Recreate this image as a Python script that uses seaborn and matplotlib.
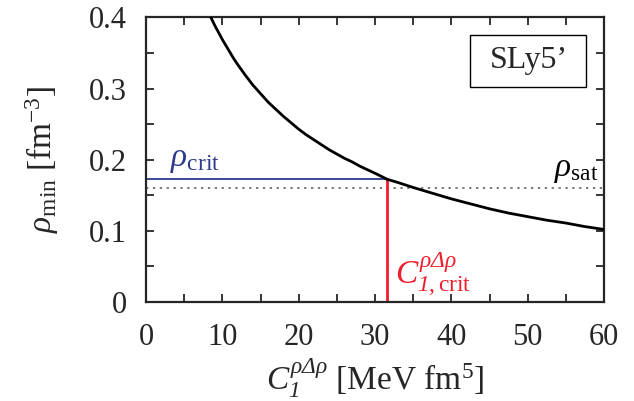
import matplotlib
matplotlib.use("Agg")
import matplotlib.pyplot as plt
from matplotlib.ticker import MultipleLocator
from matplotlib.patches import Rectangle
import seaborn as sns
import pandas as pd

# Data
c1 = [8.5, 9.0, 9.5, 10.0, 10.5, 11.0, 11.5, 12.0, 13.0, 14.0, 15.0, 16.0, 17.0,
      18.0, 19.0, 20.0, 21.0, 22.0, 23.0, 24.0, 25.0, 26.0, 27.0, 28.0, 29.0,
      30.0, 31.6, 33.0, 35.0, 37.5, 40.0, 42.5, 45.0, 47.5, 50.0, 52.5, 55.0,
      57.5, 60.0]
rho_min = [0.400, 0.389, 0.379, 0.369, 0.360, 0.351, 0.342, 0.334, 0.319, 0.305,
           0.293, 0.281, 0.271, 0.261, 0.252, 0.243, 0.235, 0.228, 0.221, 0.214,
           0.208, 0.202, 0.197, 0.191, 0.186, 0.181, 0.1725, 0.168, 0.161, 0.153,
           0.145, 0.138, 0.131, 0.125, 0.120, 0.115, 0.111, 0.106, 0.102]
rho_crit = 0.1725
c1_crit = 31.6
rho_sat = 0.160
x_ticks = [0, 10, 20, 30, 40, 50, 60]
y_ticks = [0, 0.1, 0.2, 0.3, 0.4]
y_tick_labels = ["0", "0.1", "0.2", "0.3", "0.4"]

sns.set_style("ticks")
plt.rcParams["font.family"] = ["Liberation Serif", "DejaVu Serif"]
plt.rcParams["mathtext.fontset"] = "custom"
plt.rcParams["mathtext.rm"] = "Liberation Serif"
plt.rcParams["mathtext.it"] = "Liberation Serif:italic"
plt.rcParams["mathtext.bf"] = "Liberation Serif:bold"
plt.rcParams["mathtext.cal"] = "Liberation Serif:italic"

df = pd.DataFrame({"C1": c1, "rho": rho_min})

fig = plt.figure(figsize=(6.34, 4.01), dpi=100)
ax = fig.add_axes([0.2303, 0.2469, 0.7224, 0.7095])

ax.axhline(rho_sat, color="#555555", lw=1.1, ls=(0, (1.5, 3)), zorder=1)
ax.plot([0, c1_crit], [rho_crit, rho_crit], color="#2b3a8c", lw=1.3, zorder=2)
ax.plot([c1_crit, c1_crit], [0, rho_crit], color="#f01e2c", lw=2.0, zorder=2)
sns.lineplot(data=df, x="C1", y="rho", ax=ax, color="black", lw=2.0, zorder=3)

ax.set_xlim(0, 60)
ax.set_ylim(0, 0.4)
ax.set_xticks(x_ticks)
ax.set_yticks(y_ticks)
ax.set_yticklabels(y_tick_labels)
ax.xaxis.set_minor_locator(MultipleLocator(5))
ax.yaxis.set_minor_locator(MultipleLocator(0.05))
ax.tick_params(which="both", direction="in", top=True, right=True,
               length=6, width=1.3, labelsize=22)
ax.tick_params(axis="x", pad=15)
ax.tick_params(axis="y", pad=14)
for s in ax.spines.values():
    s.set_linewidth(1.6)

sup = r"\rho\mathcal{\Delta}\rho"
ax.set_xlabel(r"$C_{\mathcal{1}}^{" + sup + r"}$ [MeV fm$^5$]", fontsize=24, labelpad=3)
ax.set_ylabel(r"$\rho_{\rm min}$ [fm$^{-3}$]", fontsize=24, labelpad=20)

ax.text(3.2, 0.178, r"$\rho_{\rm crit}$", color="#2b3a8c", fontsize=24, va="bottom")
ax.text(59.3, 0.164, r"$\rho_{\rm sat}$", color="black", fontsize=24, va="bottom", ha="right")
ax.text(32.6, 0.004, r"$C_{\mathcal{1},\rm crit}^{" + sup + r"}$", color="#f01e2c",
        fontsize=24, va="bottom")
ax.add_patch(Rectangle((42.5, 0.3024), 15.2, 0.0731, fill=True, fc="white",
                       ec="black", lw=1.0, zorder=4))
ax.text(50.1, 0.339, "SLy5’", fontsize=23, ha="center", va="center", zorder=5)

sns.despine(ax=ax, top=False, right=False)
fig.savefig("out.png", dpi=100)
